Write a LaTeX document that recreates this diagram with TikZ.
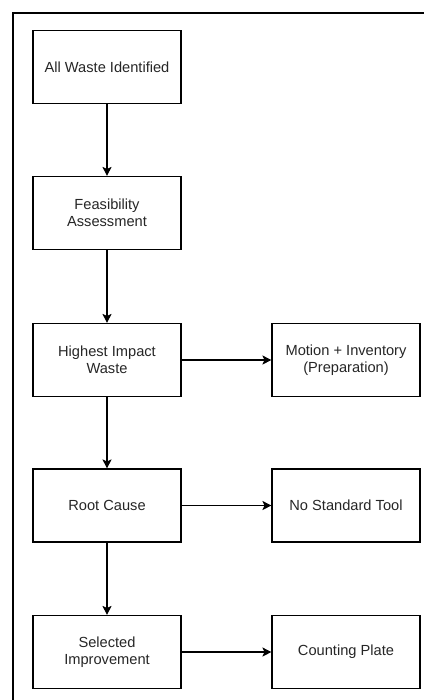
\documentclass[tikz,border=0pt]{standalone}
\usepackage{fontspec}
\setmainfont{Liberation Sans}
\usetikzlibrary{arrows.meta}
\begin{document}
\begin{tikzpicture}[x=1bp,y=-1bp,
  box/.style={draw=black, line width=1.1bp, minimum width=148bp, minimum height=73bp,
    inner sep=0pt, align=center, font=\fontsize{14.7}{17}\selectfont, text=black!85},
  conn/.style={draw=black, line width=1.1bp, -{Stealth[length=9bp,width=9bp,inset=2bp]}}]
\useasboundingbox (0,0) rectangle (424,700);
\draw[line width=1.8bp] (13,700) -- (13,13) -- (424,13);
\node[box] (a) at (107,67) {All Waste Identified};
\node[box] (b) at (107,213) {Feasibility\\Assessment};
\node[box] (c) at (107,360) {Highest Impact\\Waste};
\node[box] (d) at (107,505.5) {Root Cause};
\node[box] (e) at (107,652) {Selected\\Improvement};
\node[box] (c2) at (346,360) {Motion + Inventory\\(Preparation)};
\node[box] (d2) at (346,505.5) {No Standard Tool};
\node[box] (e2) at (346,652) {Counting Plate};
\draw[conn] (a) -- (b);
\draw[conn] (b) -- (c);
\draw[conn] (c) -- (d);
\draw[conn] (d) -- (e);
\draw[conn] (c) -- (c2);
\draw[conn] (d) -- (d2);
\draw[conn] (e) -- (e2);
\end{tikzpicture}
\end{document}
